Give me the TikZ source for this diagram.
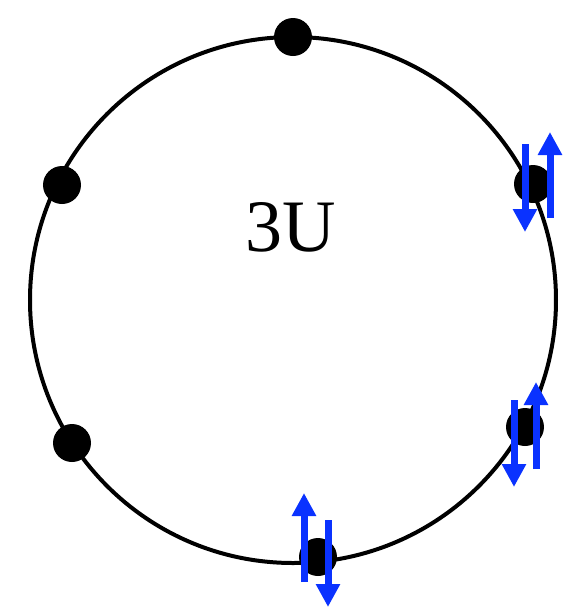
\documentclass[tikz,border=0pt]{standalone}
\usepackage{fontspec}
\setmainfont{Liberation Serif}
\usepackage{tikz}
\usetikzlibrary{arrows.meta, positioning}
\definecolor{spinblue}{RGB}{10, 50, 255}

\begin{document}
\begin{tikzpicture}[
    x=0.5pt, y=-0.5pt,
    ring/.style={draw, line width=2pt},
    site/.style={circle, fill=black, inner sep=0pt, minimum size=19pt},
    spin/.style={-{Triangle[length=11.5pt, width=11.5pt]}, line width=3.5pt, spinblue}
]
    \useasboundingbox (0, 0) rectangle (574, 607);

    % --- Ring ---
    \coordinate (c) at (293, 300);
    \draw[ring] (c) circle[radius=263];
    \node[font=\fontsize{37pt}{40pt}\selectfont] (lbl) at (291, 227) {3U};

    % --- Sites ---
    \node[site] (top) at (293, 37) {};
    \node[site] (lu) at (62, 185) {};
    \node[site] (ll) at (72, 443) {};
    \node[site] (ru) at (533, 184) {};
    \node[site] (rl) at (525, 427) {};
    \node[site] (bot) at (318, 557) {};

    % --- Spins ---
    \draw[spin] ([shift={(-8, -40)}]ru.center) -- ++(0, 88);
    \draw[spin] ([shift={(17, 34)}]ru.center) -- ++(0, -86);
    \draw[spin] ([shift={(-11, -27)}]rl.center) -- ++(0, 87);
    \draw[spin] ([shift={(11, 42)}]rl.center) -- ++(0, -87);
    \draw[spin] ([shift={(-14, 25)}]bot.center) -- ++(0, -89);
    \draw[spin] ([shift={(10, -37)}]bot.center) -- ++(0, 87);

\end{tikzpicture}
\end{document}
